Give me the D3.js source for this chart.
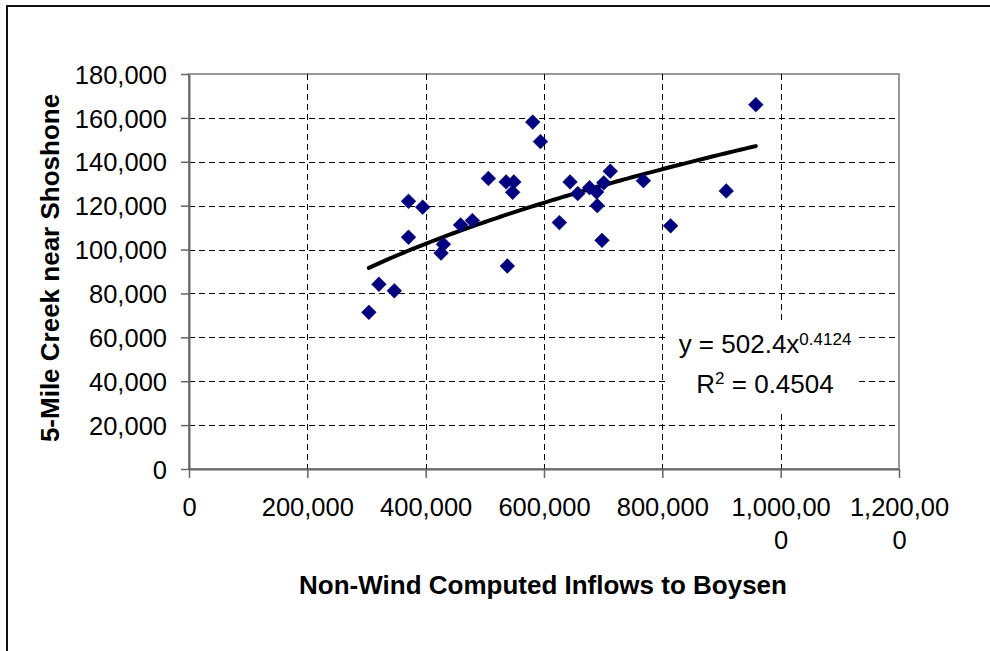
<!DOCTYPE html>
<html>
<head>
<meta charset="utf-8">
<script src="https://cdn.jsdelivr.net/npm/d3@7"></script>
<style>
  html, body { margin: 0; padding: 0; background: #fff; }
  svg { display: block; font-family: Arial, "Liberation Sans", Helvetica, sans-serif; }
</style>
</head>
<body>
<svg id="chart" width="990" height="651"></svg>
<script>
// Annual volumes: non-wind computed inflows to Boysen (x) vs 5-Mile Creek near Shoshone (y)
const inflows = [
  304000, 321000, 347000, 371000, 371000, 395000, 426000, 430000, 459000, 479000,
  506000, 536000, 538000, 549000, 547000, 581000, 594000, 626000, 644000, 657000,
  677000, 690000, 689000, 698000, 701000, 712000, 768000, 814000, 908000, 958000
];
const creekFlows = [
  71400, 84200, 81200, 122000, 105600, 119300, 98400, 102400, 111200, 113200,
  132400, 130800, 92500, 130800, 126100, 158100, 149200, 112300, 130800, 125500,
  128200, 120000, 126200, 104200, 130400, 135700, 131400, 110800, 126700, 166000
];

const xTicks = [0, 200000, 400000, 600000, 800000, 1000000, 1200000];
const yTicks = [0, 20000, 40000, 60000, 80000, 100000, 120000, 140000, 160000, 180000];

// Power-law trendline y = a * x^b and its fit statistic
const fitCoef = 502.4;
const fitExp = 0.4124;
const fitR2 = "0.4504";

const xTitle = "Non-Wind Computed Inflows to Boysen";
const yTitle = "5-Mile Creek near Shoshone";

const svg = d3.select("#chart");
const plot = { left: 189, right: 899, top: 74, bottom: 469 };

const x = d3.scaleLinear().domain([0, 1200000]).range([plot.left, plot.right]);
const y = d3.scaleLinear().domain([0, 180000]).range([plot.bottom, plot.top]);
const fmt = d3.format(",");

// Outer chart frame (runs off the right and bottom edges)
svg.append("rect")
  .attr("x", 7).attr("y", 6).attr("width", 1100).attr("height", 800)
  .attr("fill", "none").attr("stroke", "#111").attr("stroke-width", 2);

// Plot area border
svg.append("rect")
  .attr("x", plot.left).attr("y", plot.top)
  .attr("width", plot.right - plot.left).attr("height", plot.bottom - plot.top)
  .attr("fill", "#fff").attr("stroke", "#999").attr("stroke-width", 2);

// Dashed gridlines
const grid = svg.append("g").attr("stroke", "#000").attr("stroke-width", 1)
  .attr("stroke-dasharray", "6,4").attr("shape-rendering", "crispEdges");
grid.selectAll("line.h").data(yTicks.filter(d => d > 0 && d < 180000)).join("line")
  .attr("class", "h")
  .attr("x1", plot.left).attr("x2", plot.right)
  .attr("y1", d => Math.round(y(d)) + 0.5).attr("y2", d => Math.round(y(d)) + 0.5);
grid.selectAll("line.v").data(xTicks.filter(d => d > 0 && d < 1200000)).join("line")
  .attr("class", "v")
  .attr("y1", plot.top).attr("y2", plot.bottom)
  .attr("x1", d => Math.round(x(d)) + 0.5).attr("x2", d => Math.round(x(d)) + 0.5);

// Y axis
const yAxis = svg.append("g")
  .attr("transform", `translate(${plot.left},0)`)
  .call(d3.axisLeft(y).tickValues(yTicks).tickFormat(fmt).tickSize(8).tickSizeOuter(0).tickPadding(14));
yAxis.select(".domain").attr("stroke", "#666").attr("stroke-width", 2);
yAxis.selectAll(".tick line").attr("stroke", "#666").attr("stroke-width", 1.5);
yAxis.selectAll(".tick text")
  .attr("font-size", "25.5px").attr("fill", "#000").attr("dy", "0.36em")
  .attr("font-family", "Arial, 'Liberation Sans', sans-serif");

// X axis
const xAxis = svg.append("g")
  .attr("transform", `translate(0,${plot.bottom})`)
  .call(d3.axisBottom(x).tickValues(xTicks).tickFormat(fmt).tickSize(9).tickSizeOuter(0));
xAxis.select(".domain").attr("stroke", "#666").attr("stroke-width", 2);
xAxis.selectAll(".tick line").attr("stroke", "#666").attr("stroke-width", 1.5);
const xLabels = xAxis.selectAll(".tick text")
  .attr("font-size", "25.5px").attr("fill", "#000")
  .attr("font-family", "Arial, 'Liberation Sans', sans-serif")
  .attr("y", 47).attr("dy", 0);

// Labels longer than the available slot break onto a second line
const maxLabelChars = 8;
xLabels.each(function () {
  const t = d3.select(this);
  const full = t.text();
  if (full.length <= maxLabelChars) return;
  t.text(null);
  t.append("tspan").attr("x", 0).text(full.slice(0, maxLabelChars));
  t.append("tspan").attr("x", 0).attr("dy", 33).text(full.slice(maxLabelChars));
});

// Axis titles
svg.append("text")
  .attr("x", (plot.left + plot.right) / 2 - 1).attr("y", 594)
  .attr("text-anchor", "middle").attr("font-size", "26px").attr("font-weight", "bold")
  .text(xTitle);
svg.append("text")
  .attr("transform", "translate(58.5,268) rotate(-90)")
  .attr("text-anchor", "middle").attr("font-size", "26px").attr("font-weight", "bold")
  .text(yTitle);

// Trendline label on a white box
const labelX = 765;
svg.append("rect")
  .attr("x", 666).attr("y", 324).attr("width", 190).attr("height", 86)
  .attr("fill", "#fff");
const eq = svg.append("text")
  .attr("x", labelX).attr("y", 353).attr("text-anchor", "middle")
  .attr("font-size", "26px").attr("fill", "#000");
eq.append("tspan").text(`y = ${fitCoef}x`);
eq.append("tspan").attr("font-size", "17px").attr("dy", -8).text(String(fitExp));
const r2 = svg.append("text")
  .attr("x", labelX).attr("y", 393).attr("text-anchor", "middle")
  .attr("font-size", "26px").attr("fill", "#000");
r2.append("tspan").text("R");
r2.append("tspan").attr("font-size", "17px").attr("dy", -9).text("2");
r2.append("tspan").attr("dy", 9).text(` = ${fitR2}`);

// Trendline across the observed inflow range
const [xMin, xMax] = d3.extent(inflows);
const curve = d3.range(0, 101).map(i => {
  const xv = xMin + (xMax - xMin) * i / 100;
  return [xv, fitCoef * Math.pow(xv, fitExp)];
});
svg.append("path")
  .datum(curve)
  .attr("fill", "none").attr("stroke", "#000").attr("stroke-width", 4)
  .attr("stroke-linecap", "round").attr("stroke-linejoin", "round")
  .attr("d", d3.line().x(d => x(d[0])).y(d => y(d[1])));

// Diamond markers
const points = inflows.map((v, i) => ({ x: v, y: creekFlows[i] }));
const r = 7.4;
svg.append("g").selectAll("path").data(points).join("path")
  .attr("transform", d => `translate(${x(d.x)},${y(d.y)})`)
  .attr("d", `M0,${-r}L${r},0L0,${r}L${-r},0Z`)
  .attr("fill", "#000080")
  .attr("stroke", "#000060").attr("stroke-width", 0.5);
</script>
</body>
</html>
